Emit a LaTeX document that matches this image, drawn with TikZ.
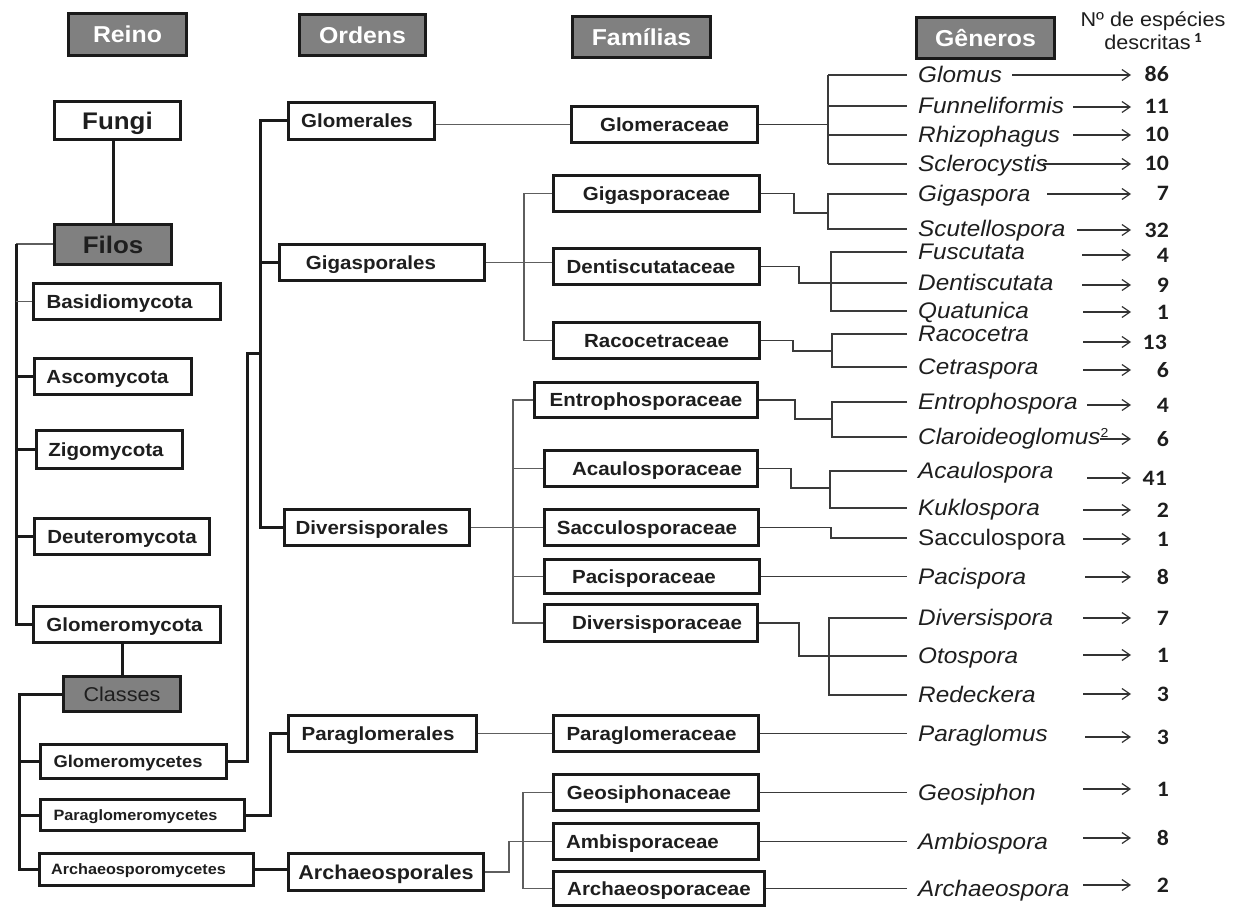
\documentclass[tikz,border=0pt]{standalone}
\usepackage{fontspec}
\setmainfont{Liberation Sans}[FakeStretch=1.08]
\newfontfamily\nfont{Carlito}[FakeStretch=1.08]
\usetikzlibrary{arrows.meta}
\definecolor{boxc}{HTML}{1A1A1A}
\definecolor{txtc}{HTML}{1E1E1E}
\definecolor{hdrc}{HTML}{808080}
\definecolor{thinc}{HTML}{5E5E5E}
\definecolor{genc}{HTML}{3A3A3A}
\definecolor{arrc}{HTML}{333333}
\newcommand\mybx[7][]{\node[bx,minimum width={(#5)-(#3)-3},minimum height={(#6)-(#4)-3},#1] (#2) at ({((#3)+(#5))/2},{((#4)+(#6))/2}) {#7};}
\tikzset{
 bx/.style={draw=boxc, line width=3pt, fill=white, inner sep=0pt, text=txtc, text height=13.6pt, text depth=0pt, font=\fontsize{19}{19}\selectfont\bfseries},
 hdr/.style={fill=hdrc, text=white, text height=16.5pt, font=\fontsize{23}{23}\selectfont\bfseries},
 grayb/.style={fill=hdrc, text=txtc},
 bigb/.style={text height=17.2pt, font=\fontsize{24}{24}\selectfont\bfseries},
 midb/.style={text height=12.2pt, font=\fontsize{17}{17}\selectfont\bfseries},
 smb/.style={text height=10.7pt, font=\fontsize{15}{15}\selectfont\bfseries},
 thk/.style={draw=boxc, line width=3pt},
 thn/.style={draw=thinc, line width=1.4pt},
 fg/.style={draw=genc, line width=1.3pt},
 gen/.style={anchor=west, inner xsep=11pt, inner ysep=0pt, text height=15.5pt, text depth=0pt, text=txtc, font=\fontsize{22.5}{22.5}\selectfont\itshape},
 genup/.style={gen, font=\fontsize{22.5}{22.5}\selectfont\upshape},
 num/.style={anchor=east, inner sep=0pt, text width=37pt, align=right, text height=14pt, text depth=0pt, text=txtc, font=\nfont\fontsize{22}{22}\selectfont\bfseries},
 arr/.style={draw=arrc, line width=1.2pt, -{Straight Barb[length=8pt,width=11pt]}},
 note/.style={inner sep=0pt, text=txtc, font=\fontsize{20}{20}\selectfont}
}
\begin{document}
\begin{tikzpicture}[x=1pt,y=-1pt]
\useasboundingbox[fill=white] (0,0) rectangle (1241,909);
% headers
\mybx[hdr]{hreino}{67}{12}{188}{57}{Reino}
\mybx[hdr]{hordens}{298}{13}{427}{57}{Ordens}
\mybx[hdr]{hfam}{571}{15}{712}{59}{Famílias}
\mybx[hdr]{hgen}{915}{16}{1056}{60}{Gêneros}
\node[note,anchor=base] (nt1) at (1153,27) {Nº de espécies};
\node[note,anchor=base] (nt2) at (1153,50) {descritas\,\raisebox{7pt}{\nfont\bfseries\fontsize{14}{14}\selectfont 1}};
% left column
\mybx[bigb]{fungi}{53}{100}{182}{141}{Fungi}
\mybx[bigb,grayb]{filos}{53}{223}{173}{266}{Filos}
\mybx{basidio}{32}{282}{222}{321}{\hspace*{-15pt}Basidiomycota}
\mybx{asco}{33}{357}{193}{396}{\hspace*{-11pt}Ascomycota}
\mybx{zigo}{35}{429}{184}{470}{\hspace*{-7pt}Zigomycota}
\mybx{deutero}{33}{517}{211}{556}{Deuteromycota}
\mybx{glomero}{32}{605}{222}{644}{\hspace*{-5pt}Glomeromycota}
\mybx[grayb,text height=14.3pt,font=\fontsize{20}{20}\selectfont]{classes}{62}{675}{182}{713}{Classes}
\mybx[midb]{glomyc}{39}{743}{228}{780}{\hspace*{-11pt}Glomeromycetes}
\mybx[smb]{paramyc}{39}{798}{246}{832}{\hspace*{-14pt}Paraglomeromycetes}
\mybx[smb]{archmyc}{38}{852}{255}{887}{\hspace*{-16pt}Archaeosporomycetes}
% orders
\mybx{glomerales}{287}{101}{436}{141}{\hspace*{-9pt}Glomerales}
\mybx{gigasporales}{278}{243}{486}{282}{\hspace*{-22pt}Gigasporales}
\mybx{diversisporales}{283}{508}{471}{547}{\hspace*{-10pt}Diversisporales}
\mybx{paraglomerales}{287}{714}{478}{753}{\hspace*{-9pt}Paraglomerales}
\mybx[text height=14.3pt,font=\fontsize{20}{20}\selectfont\bfseries]{archaeosporales}{287}{852}{485}{892}{Archaeosporales}
% families
\mybx{glomeraceae}{570}{105}{759}{144}{Glomeraceae}
\mybx{gigasporaceae}{552}{174}{761}{213}{Gigasporaceae}
\mybx{dentiscutataceae}{552}{247}{761}{286}{\hspace*{-11pt}Dentiscutataceae}
\mybx{racocetraceae}{552}{321}{761}{360}{Racocetraceae}
\mybx{entrophosporaceae}{533}{381}{759}{419}{Entrophosporaceae}
\mybx{acaulosporaceae}{543}{449}{759}{488}{\hspace*{12pt}Acaulosporaceae}
\mybx{sacculosporaceae}{543}{508}{760}{547}{\hspace*{-9pt}Sacculosporaceae}
\mybx{pacisporaceae}{543}{558}{761}{595}{\hspace*{-16pt}Pacisporaceae}
\mybx{diversisporaceae}{543}{603}{759}{643}{\hspace*{12pt}Diversisporaceae}
\mybx{paraglomeraceae}{552}{714}{760}{753}{\hspace*{-9pt}Paraglomeraceae}
\mybx{geosiphonaceae}{552}{773}{760}{812}{\hspace*{-14pt}Geosiphonaceae}
\mybx{ambisporaceae}{552}{822}{760}{861}{\hspace*{-27pt}Ambisporaceae}
\mybx{archaeosporaceae}{552}{870}{766}{907}{Archaeosporaceae}
% genera
\node[gen] (g1) at (907,75) {Glomus};
\node[gen] (g2) at (907,106) {Funneliformis};
\node[gen] (g3) at (907,135) {Rhizophagus};
\node[gen] (g4) at (907,164) {Sclerocystis};
\node[gen] (g5) at (907,194) {Gigaspora};
\node[gen] (g6) at (907,229) {Scutellospora};
\node[gen] (g7) at (907,252) {Fuscutata};
\node[gen] (g8) at (907,283) {Dentiscutata};
\node[gen] (g9) at (907,311) {Quatunica};
\node[gen] (g10) at (907,334) {Racocetra};
\node[gen] (g11) at (907,367) {Cetraspora};
\node[gen] (g12) at (907,402) {Entrophospora};
\node[gen] (g13) at (907,437) {Claroideoglomus\raisebox{7pt}{\upshape\fontsize{13}{13}\selectfont 2}};
\node[gen] (g14) at (907,471) {Acaulospora};
\node[gen] (g15) at (907,508) {Kuklospora};
\node[genup] (g16) at (907,538) {Sacculospora};
\node[gen] (g17) at (907,576.5) {Pacispora};
\node[gen] (g18) at (907,618) {Diversispora};
\node[gen] (g19) at (907,656) {Otospora};
\node[gen] (g20) at (907,695) {Redeckera};
\node[gen] (g21) at (907,733.5) {Paraglomus};
\node[gen] (g22) at (907,792.5) {Geosiphon};
\node[gen] (g23) at (907,841.5) {Ambiospora};
\node[gen] (g24) at (907,888.5) {Archaeospora};
% numbers
\node[num] (n1) at (1169,75) {86};
\node[num] (n2) at (1169,107) {11};
\node[num] (n3) at (1169,135) {10};
\node[num] (n4) at (1169,164) {10};
\node[num] (n5) at (1169,194) {7};
\node[num] (n6) at (1169,230) {32};
\node[num] (n7) at (1169,255) {4};
\node[num] (n8) at (1169,285) {9};
\node[num] (n9) at (1169,312) {1};
\node[num] (n10) at (1167,342) {13};
\node[num] (n11) at (1169,370) {6};
\node[num] (n12) at (1169,405) {4};
\node[num] (n13) at (1169,439) {6};
\node[num] (n14) at (1167,478) {41};
\node[num] (n15) at (1169,510) {2};
\node[num] (n16) at (1169,539) {1};
\node[num] (n17) at (1169,577) {8};
\node[num] (n18) at (1169,618) {7};
\node[num] (n19) at (1169,655) {1};
\node[num] (n20) at (1169,694) {3};
\node[num] (n21) at (1169,737) {3};
\node[num] (n22) at (1169,789) {1};
\node[num] (n23) at (1169,838) {8};
\node[num] (n24) at (1169,885) {2};
% arrow starts
\coordinate (a1) at (1012,75);
\coordinate (a2) at (1073,107);
\coordinate (a3) at (1073,135);
\coordinate (a4) at (1043,164);
\coordinate (a5) at (1047,194);
\coordinate (a6) at (1077,230);
\coordinate (a7) at (1082,255);
\coordinate (a8) at (1082,285);
\coordinate (a9) at (1083,312);
\coordinate (a10) at (1083,342);
\coordinate (a11) at (1083,370);
\coordinate (a12) at (1087,405);
\coordinate (a13) at (1100,439);
\coordinate (a14) at (1087,478);
\coordinate (a15) at (1083,510);
\coordinate (a16) at (1083,539);
\coordinate (a17) at (1085,577);
\coordinate (a18) at (1083,618);
\coordinate (a19) at (1083,655);
\coordinate (a20) at (1083,694);
\coordinate (a21) at (1085,737);
\coordinate (a22) at (1083,789);
\coordinate (a23) at (1083,838);
\coordinate (a24) at (1083,885);
\foreach \i in {1,...,24} \draw[arr] (a\i) -- (n\i.west -| 1131,0);
% left connectors
\draw[thk] (filos.north) -- (filos.north |- fungi.south);
\coordinate (sp1) at (16,244);
\draw[thn] (sp1) -- (sp1 -| filos.west);
\draw[thk] (sp1) -- (sp1 |- glomero.west) -- (glomero.west);
\draw[thn] (sp1 |- basidio.west) -- (basidio.west);
\draw[thk] (sp1 |- asco.west) -- (asco.west);
\draw[thk] (sp1 |- zigo.west) -- (zigo.west);
\draw[thk] (sp1 |- deutero.west) -- (deutero.west);
\draw[thk] (classes.north) -- (classes.north |- glomero.south);
\coordinate (sp2) at (19,694);
\draw[thk] (classes.west) -- (classes.west -| sp2) -- (sp2 |- archmyc.west) -- (archmyc.west);
\draw[thk] (sp2 |- glomyc.west) -- (glomyc.west);
\draw[thk] (sp2 |- paramyc.west) -- (paramyc.west);
% classes to orders
\coordinate (sp3) at (260,353);
\draw[thk] (glomerales.west) -- (glomerales.west -| sp3) -- (sp3 |- diversisporales.west) -- (diversisporales.west);
\draw[thk] (sp3 |- gigasporales.west) -- (gigasporales.west);
\coordinate (b1) at (247,353);
\draw[thk] (glomyc.east) -- (glomyc.east -| b1) -- (b1) -- (sp3);
\coordinate (b2) at (270,733);
\draw[thk] (paramyc.east) -- (paramyc.east -| b2) -- (b2 |- paraglomerales.west) -- (paraglomerales.west);
\draw[thk] (archmyc.east) -- (archmyc.east -| archaeosporales.west);
% orders to families
\draw[thn] (glomerales.east |- glomeraceae.west) -- (glomeraceae.west);
\draw[thn] (gigasporales.east) -- (gigasporales.east -| dentiscutataceae.west);
\coordinate (sp4) at (524,262);
\draw[thn] (gigasporaceae.west) -- (gigasporaceae.west -| sp4) -- (sp4 |- racocetraceae.west) -- (racocetraceae.west);
\draw[thn] (diversisporales.east) -- (diversisporales.east -| sacculosporaceae.west);
\coordinate (sp5) at (513,527);
\draw[thn] (entrophosporaceae.west) -- (entrophosporaceae.west -| sp5) -- (sp5 |- diversisporaceae.west) -- (diversisporaceae.west);
\draw[thn] (sp5 |- acaulosporaceae.west) -- (acaulosporaceae.west);
\draw[thn] (sp5 |- pacisporaceae.west) -- (pacisporaceae.west);
\draw[thn] (paraglomerales.east) -- (paraglomerales.east -| paraglomeraceae.west);
\coordinate (b3) at (509,872);
\draw[thn] (archaeosporales.east) -- (archaeosporales.east -| b3) -- (b3 |- ambisporaceae.west) -- (ambisporaceae.west);
\coordinate (sp6) at (523,841);
\draw[thn] (geosiphonaceae.west) -- (geosiphonaceae.west -| sp6) -- (sp6 |- archaeosporaceae.west) -- (archaeosporaceae.west);
% families to genera
\coordinate (v1) at (828,125);
\draw[fg] (glomeraceae.east) -- (glomeraceae.east -| v1);
\draw[fg] (g1.west -| v1) -- (g4.west -| v1);
\foreach \g in {g1,g2,g3,g4} \draw[fg] (\g.west -| v1) -- (\g.west);
\coordinate (k2) at (794,213); \coordinate (v2) at (828,213);
\draw[fg] (gigasporaceae.east) -- (gigasporaceae.east -| k2) -- (k2) -- (v2);
\draw[fg] (g5.west) -- (g5.west -| v2) -- (g6.west -| v2) -- (g6.west);
\coordinate (k3) at (799,283); \coordinate (v3) at (831,283);
\draw[fg] (dentiscutataceae.east) -- (dentiscutataceae.east -| k3) -- (k3) -- (g8.west);
\draw[fg] (g7.west) -- (g7.west -| v3) -- (g9.west -| v3) -- (g9.west);
\coordinate (k4) at (793,351); \coordinate (v4) at (832,351);
\draw[fg] (racocetraceae.east) -- (racocetraceae.east -| k4) -- (k4) -- (v4);
\draw[fg] (g10.west) -- (g10.west -| v4) -- (g11.west -| v4) -- (g11.west);
\coordinate (k5) at (795,419); \coordinate (v5) at (832,419);
\draw[fg] (entrophosporaceae.east) -- (entrophosporaceae.east -| k5) -- (k5) -- (v5);
\draw[fg] (g12.west) -- (g12.west -| v5) -- (g13.west -| v5) -- (g13.west);
\coordinate (k6) at (791,488); \coordinate (v6) at (830,488);
\draw[fg] (acaulosporaceae.east) -- (acaulosporaceae.east -| k6) -- (k6) -- (v6);
\draw[fg] (g14.west) -- (g14.west -| v6) -- (g15.west -| v6) -- (g15.west);
\coordinate (k7) at (831,538);
\draw[fg] (sacculosporaceae.east) -- (sacculosporaceae.east -| k7) -- (k7) -- (g16.west);
\draw[fg] (pacisporaceae.east) -- (g17.west);
\coordinate (k8) at (799,656); \coordinate (v8) at (829,656);
\draw[fg] (diversisporaceae.east) -- (diversisporaceae.east -| k8) -- (k8) -- (g19.west);
\draw[fg] (g18.west) -- (g18.west -| v8) -- (g20.west -| v8) -- (g20.west);
\draw[fg] (paraglomeraceae.east) -- (g21.west);
\draw[fg] (geosiphonaceae.east) -- (g22.west);
\draw[fg] (ambisporaceae.east) -- (g23.west);
\draw[fg] (archaeosporaceae.east) -- (g24.west);
\end{tikzpicture}
\end{document}
